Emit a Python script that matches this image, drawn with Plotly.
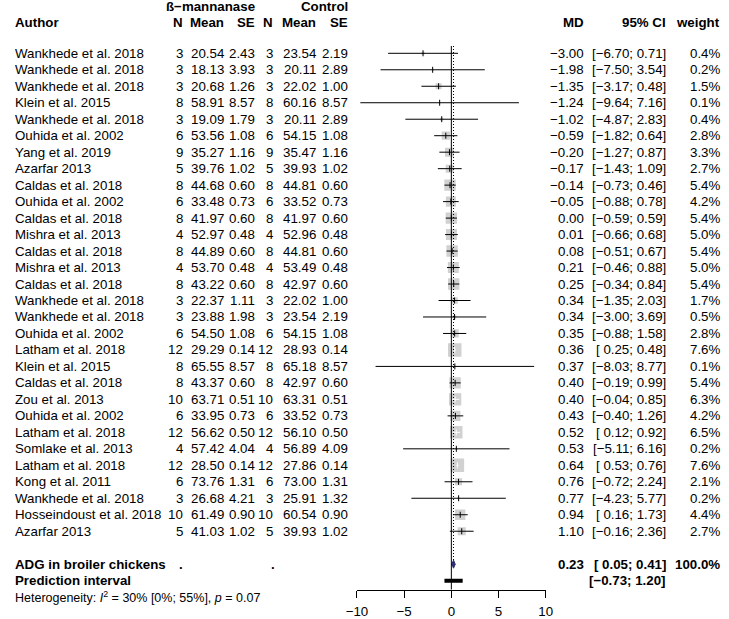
import plotly.graph_objects as go

# ---------------- data ----------------
authors = [
    "Wankhede et al. 2018", "Wankhede et al. 2018", "Wankhede et al. 2018", "Klein et al. 2015",
    "Wankhede et al. 2018", "Ouhida et al. 2002", "Yang et al. 2019", "Azarfar 2013",
    "Caldas et al. 2018", "Ouhida et al. 2002", "Caldas et al. 2018", "Mishra et al. 2013",
    "Caldas et al. 2018", "Mishra et al. 2013", "Caldas et al. 2018", "Wankhede et al. 2018",
    "Wankhede et al. 2018", "Ouhida et al. 2002", "Latham et al. 2018", "Klein et al. 2015",
    "Caldas et al. 2018", "Zou et al. 2013", "Ouhida et al. 2002", "Latham et al. 2018",
    "Somlake et al. 2013", "Latham et al. 2018", "Kong et al. 2011", "Wankhede et al. 2018",
    "Hosseindoust et al. 2018", "Azarfar 2013",
]
n_e = [3, 3, 3, 8, 3, 6, 9, 5, 8, 6, 8, 4, 8, 4, 8, 3, 3, 6, 12, 8, 8, 10, 6, 12, 4, 12, 6, 3, 10, 5]
mean_e = [20.54, 18.13, 20.68, 58.91, 19.09, 53.56, 35.27, 39.76, 44.68, 33.48, 41.97, 52.97, 44.89,
          53.70, 43.22, 22.37, 23.88, 54.50, 29.29, 65.55, 43.37, 63.71, 33.95, 56.62, 57.42, 28.50,
          73.76, 26.68, 61.49, 41.03]
se_e = [2.43, 3.93, 1.26, 8.57, 1.79, 1.08, 1.16, 1.02, 0.60, 0.73, 0.60, 0.48, 0.60, 0.48, 0.60,
        1.11, 1.98, 1.08, 0.14, 8.57, 0.60, 0.51, 0.73, 0.50, 4.04, 0.14, 1.31, 4.21, 0.90, 1.02]
n_c = [3, 3, 3, 8, 3, 6, 9, 5, 8, 6, 8, 4, 8, 4, 8, 3, 3, 6, 12, 8, 8, 10, 6, 12, 4, 12, 6, 3, 10, 5]
mean_c = [23.54, 20.11, 22.02, 60.16, 20.11, 54.15, 35.47, 39.93, 44.81, 33.52, 41.97, 52.96, 44.81,
          53.49, 42.97, 22.02, 23.54, 54.15, 28.93, 65.18, 42.97, 63.31, 33.52, 56.10, 56.89, 27.86,
          73.00, 25.91, 60.54, 39.93]
se_c = [2.19, 2.89, 1.00, 8.57, 2.89, 1.08, 1.16, 1.02, 0.60, 0.73, 0.60, 0.48, 0.60, 0.48, 0.60,
        1.00, 2.19, 1.08, 0.14, 8.57, 0.60, 0.51, 0.73, 0.50, 4.09, 0.14, 1.31, 1.32, 0.90, 1.02]
md = [-3.00, -1.98, -1.35, -1.24, -1.02, -0.59, -0.20, -0.17, -0.14, -0.05, 0.00, 0.01, 0.08, 0.21,
      0.25, 0.34, 0.34, 0.35, 0.36, 0.37, 0.40, 0.40, 0.43, 0.52, 0.53, 0.64, 0.76, 0.77, 0.94, 1.10]
ci_lo = [-6.70, -7.50, -3.17, -9.64, -4.87, -1.82, -1.27, -1.43, -0.73, -0.88, -0.59, -0.66, -0.51,
         -0.46, -0.34, -1.35, -3.00, -0.88, 0.25, -8.03, -0.19, -0.04, -0.40, 0.12, -5.11, 0.53,
         -0.72, -4.23, 0.16, -0.16]
ci_hi = [0.71, 3.54, 0.48, 7.16, 2.83, 0.64, 0.87, 1.09, 0.46, 0.78, 0.59, 0.68, 0.67, 0.88, 0.84,
         2.03, 3.69, 1.58, 0.48, 8.77, 0.99, 0.85, 1.26, 0.92, 6.16, 0.76, 2.24, 5.77, 1.73, 2.36]
weight = [0.4, 0.2, 1.5, 0.1, 0.4, 2.8, 3.3, 2.7, 5.4, 4.2, 5.4, 5.0, 5.4, 5.0, 5.4, 1.7, 0.5, 2.8,
          7.6, 0.1, 5.4, 6.3, 4.2, 6.5, 0.2, 7.6, 2.1, 0.2, 4.4, 2.7]

pooled_label = "ADG in broiler chickens"
pooled_md, pooled_lo, pooled_hi, pooled_w = 0.23, 0.05, 0.41, 100.0
pred_lo, pred_hi = -0.73, 1.20
heterogeneity = "Heterogeneity: <i>I</i><sup>2</sup> = 30% [0%; 55%], <i>p</i> = 0.07"
x_ticks = [-10, -5, 0, 5, 10]
x_tick_labels = ["\u221210", "\u22125", "0", "5", "10"]

# ---------------- geometry ----------------
W, H = 729, 619
ROW0_PX, ROW_PX = 53.3, 16.48          # pixel centre of first row, row pitch
X_LEFT_PX, X_RIGHT_PX = 354.7, 548.3   # forest axis extent
AXIS_Y_PX = 589.5
PX_PER_UNIT = (X_RIGHT_PX - X_LEFT_PX) / 20.0
FONT = "Liberation Sans, Arial, sans-serif"
FS = 13.3
BOX_MAX = 13.5                          # px side of the largest (7.6 %) box

n = len(authors)
rows = list(range(n))
row_pooled, row_pred, row_het = n + 1, n + 2, n + 3


def px(xpix):
    return xpix / W


def fnum(v, d=2):
    s = f"{abs(v):.{d}f}"
    return ("\u2212" + s) if v < 0 else s


def fci(lo, hi):
    l = fnum(lo) if lo < 0 else " " + fnum(lo)
    return f"[{l}; {fnum(hi)}]"


fig = go.Figure()

# boxes
sizes = [BOX_MAX * (w / max(weight)) ** 0.5 for w in weight]
fig.add_trace(go.Scatter(x=md, y=rows, mode="markers",
                         marker=dict(symbol="square", size=sizes, color="#BEBEBE", line=dict(width=0)),
                         hoverinfo="skip"))

# CI lines (white when entirely inside the box)
inside = [(hi - lo) / 2 < 0.92 * (s / 2) / PX_PER_UNIT for lo, hi, s in zip(ci_lo, ci_hi, sizes)]
for flag, col in [(False, "black"), (True, "white")]:
    xs, ys = [], []
    for i in rows:
        if inside[i] == flag:
            xs += [ci_lo[i], ci_hi[i], None]
            ys += [i, i, None]
    fig.add_trace(go.Scatter(x=xs, y=ys, mode="lines", line=dict(color=col, width=1), hoverinfo="skip"))
fig.add_trace(go.Scatter(x=md, y=rows, mode="markers",
                         marker=dict(symbol="line-ns", size=4.3,
                                     line=dict(width=1, color=["white" if f else "black" for f in inside])),
                         hoverinfo="skip"))

# pooled diamond
dh = 4.0 / ROW_PX
fig.add_trace(go.Scatter(x=[pooled_lo, pooled_md, pooled_hi, pooled_md, pooled_lo],
                         y=[row_pooled, row_pooled - dh, row_pooled, row_pooled + dh, row_pooled],
                         mode="lines", fill="toself", fillcolor="#2E2E70",
                         line=dict(color="#2E2E70", width=1), hoverinfo="skip"))
# prediction interval
fig.add_trace(go.Scatter(x=[pred_lo, pred_hi], y=[row_pred, row_pred], mode="lines",
                         line=dict(color="black", width=4), hoverinfo="skip"))

top_row = (46 - ROW0_PX) / ROW_PX
axis_row = (AXIS_Y_PX - ROW0_PX) / ROW_PX
shapes = [
    dict(type="line", xref="x", yref="y", x0=0, x1=0, y0=top_row, y1=axis_row,
         line=dict(color="black", width=1)),
    dict(type="line", xref="x", yref="y", x0=pooled_md, x1=pooled_md, y0=top_row,
         y1=row_pooled - dh, line=dict(color="black", width=1, dash="1px,2px")),
]

# ---------------- text columns ----------------
ann = []


def txt(x, y, s, anchor="right", bold=False, size=FS):
    if bold:
        s = f"<b>{s}</b>"
    ann.append(dict(x=px(x + (1 if anchor == "right" else -1)), y=y, xref="paper", yref="y",
                    text=s, showarrow=False, xanchor=anchor, yanchor="middle",
                    font=dict(family=FONT, size=size, color="black")))


COLS = dict(ne=177, me=219, se=251, nc=270, mc=314, sc=347, md=589, ci=673, w=728)
h1 = (6.7 - ROW0_PX) / ROW_PX
h2 = (22.7 - ROW0_PX) / ROW_PX
txt(COLS["se"], h1, "ß\u2212mannanase", bold=True)
txt(COLS["sc"], h1, "Control", bold=True)
txt(3, h2, "Author", anchor="left", bold=True)
for k, lab in [("ne", "N"), ("me", "Mean"), ("se", "SE"), ("nc", "N"), ("mc", "Mean"), ("sc", "SE"),
               ("md", "MD"), ("ci", "95% CI"), ("w", "weight")]:
    txt(COLS[k], h2, lab, bold=True)

for i in rows:
    txt(3, i, authors[i], anchor="left")
    txt(COLS["ne"], i, str(n_e[i]))
    txt(COLS["me"], i, f"{mean_e[i]:.2f}")
    txt(COLS["se"], i, f"{se_e[i]:.2f}")
    txt(COLS["nc"], i, str(n_c[i]))
    txt(COLS["mc"], i, f"{mean_c[i]:.2f}")
    txt(COLS["sc"], i, f"{se_c[i]:.2f}")
    txt(COLS["md"], i, fnum(md[i]))
    txt(COLS["ci"], i, fci(ci_lo[i], ci_hi[i]))
    txt(COLS["w"], i, f"{weight[i]:.1f}%")

txt(3, row_pooled, pooled_label, anchor="left", bold=True)
txt(COLS["ne"], row_pooled, ".", bold=True)
txt(COLS["nc"] + 2, row_pooled, ".", bold=True)
txt(COLS["md"], row_pooled, fnum(pooled_md), bold=True)
txt(COLS["ci"], row_pooled, fci(pooled_lo, pooled_hi), bold=True)
txt(COLS["w"], row_pooled, f"{pooled_w:.1f}%", bold=True)
txt(3, row_pred, "Prediction interval", anchor="left", bold=True)
txt(COLS["ci"], row_pred, fci(pred_lo, pred_hi), bold=True)
txt(3, row_het, heterogeneity, anchor="left", size=12.5)

fig.update_layout(
    width=W, height=H, margin=dict(l=0, r=0, t=0, b=0),
    paper_bgcolor="white", plot_bgcolor="white", showlegend=False, hovermode=False,
    font=dict(family=FONT, size=FS, color="black"),
    xaxis=dict(domain=[X_LEFT_PX / W, X_RIGHT_PX / W], range=[-10, 10], anchor="free",
               position=(H - AXIS_Y_PX) / H, showline=True, linecolor="black", linewidth=1,
               ticks="outside", ticklen=7, tickwidth=1, tickcolor="black", ticklabelstandoff=3,
               tickvals=x_ticks, ticktext=x_tick_labels, showgrid=False, zeroline=False,
               tickfont=dict(family=FONT, size=FS, color="black"), fixedrange=True),
    yaxis=dict(domain=[0, 1], range=[(H - ROW0_PX) / ROW_PX, -ROW0_PX / ROW_PX], visible=False,
               showgrid=False, zeroline=False, fixedrange=True),
    shapes=shapes, annotations=ann,
)

fig.write_html("out.html", config=dict(displayModeBar=False),
               post_script="document.body.style.margin='0';document.body.style.padding='0';"
                           "document.body.style.overflow='hidden';")
